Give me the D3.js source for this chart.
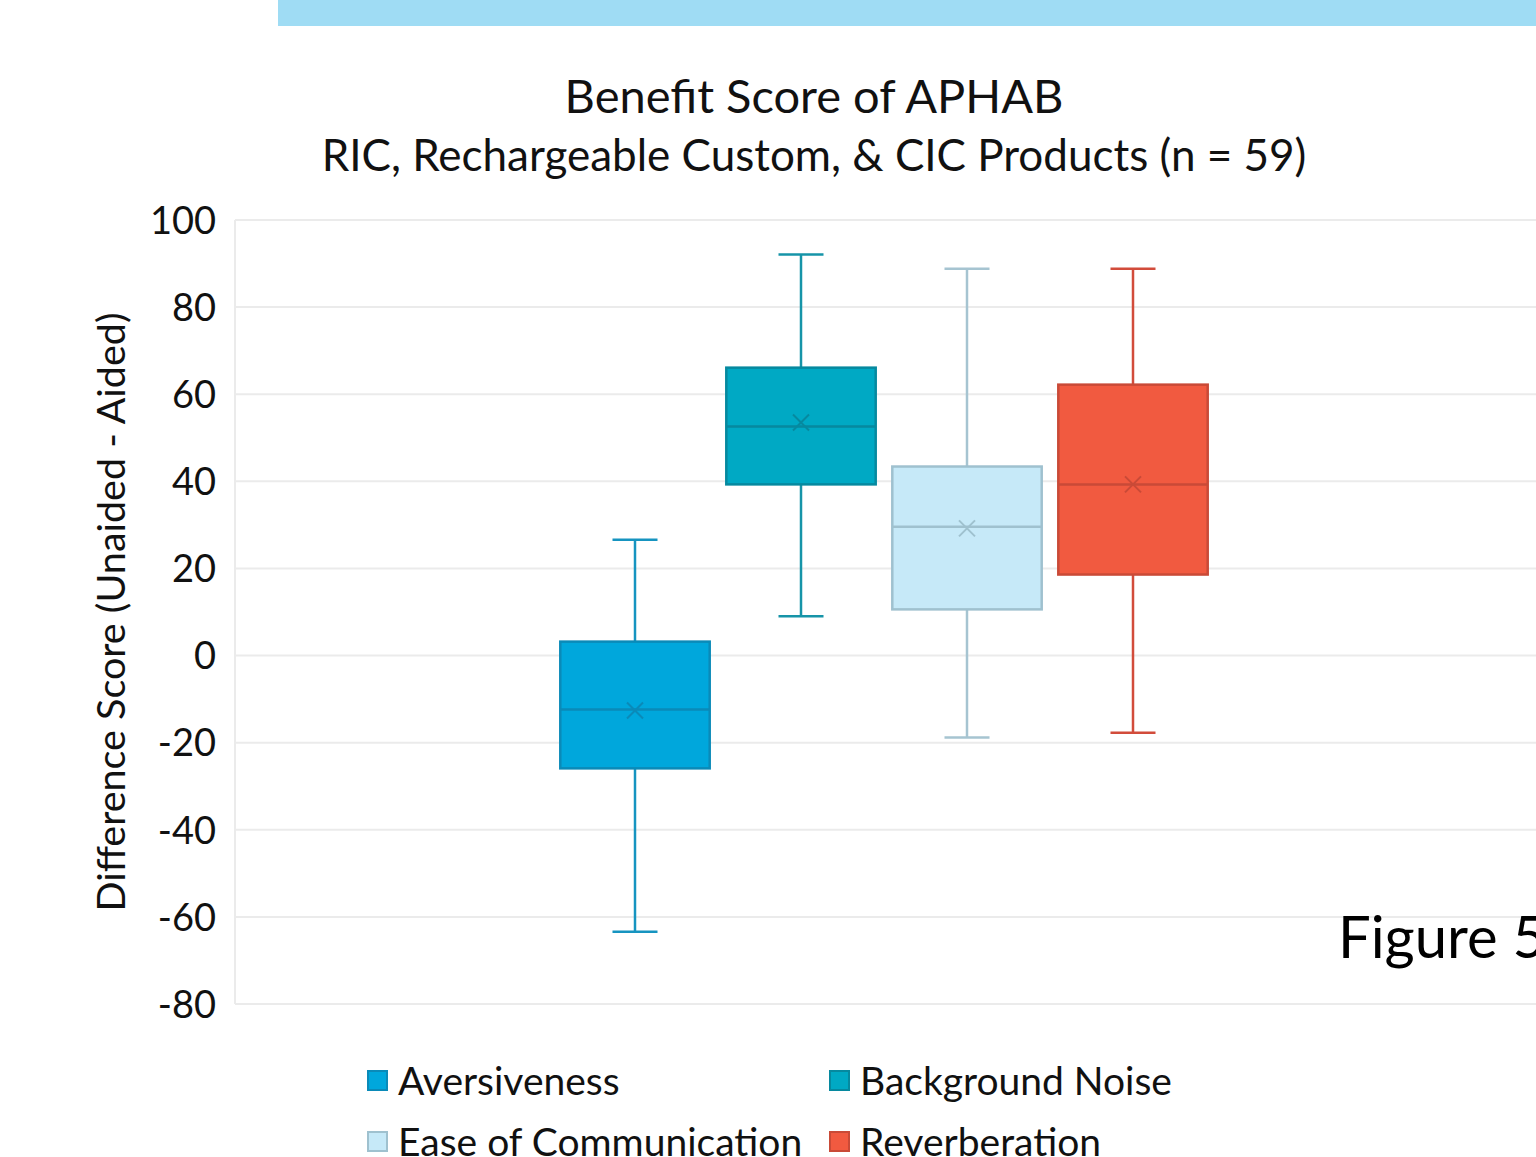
<!DOCTYPE html>
<html>
<head>
<meta charset="utf-8">
<script src="https://cdn.jsdelivr.net/npm/d3@7/dist/d3.min.js"></script>
<style>
  html, body { margin: 0; padding: 0; background: #fff; }
  svg { display: block; font-family: Lato, "Noto Sans", sans-serif; }
</style>
</head>
<body>
<svg id="chart" width="1536" height="1157"></svg>
<script>
const W = 1536;
const H = 1157;

// data
const series = ['Aversiveness', 'Background Noise', 'Ease of Communication', 'Reverberation'];
const whiskerLow  = [-63.4,  9.0, -18.8, -17.7];
const q1          = [-25.9, 39.3,  10.6,  18.6];
const median      = [-12.4, 52.6,  29.6,  39.3];
const q3          = [  3.2, 66.1,  43.4,  62.2];
const whiskerHigh = [ 26.6, 92.1,  88.8,  88.8];
const mean        = [-12.6, 53.5,  29.2,  39.3];
const yTicks = [100, 80, 60, 40, 20, 0, -20, -40, -60, -80];

const fills   = ['#00a7dc', '#00a9c4', '#c6e9f8', '#f15a40'];
const strokes = ['#0a8ab8', '#06899f', '#9fc1cf', '#c94a37'];
const lines   = ['#1694c0', '#1694a8', '#a6c4d1', '#d24c3b'];

const svg = d3.select('#chart');

// light blue banner strip at the top
svg.append('rect').attr('x', 278).attr('y', 0).attr('width', W - 278).attr('height', 26)
  .attr('fill', '#9fdcf4');

const m = { top: 220, right: 0, bottom: H - 1004, left: 235 };
const y = d3.scaleLinear().domain([-80, 100]).range([1004, 220]);
const x = d3.scaleBand().domain(series).range([552, 1216]).paddingInner(0.1).paddingOuter(0.05);

// gridlines
svg.append('g').selectAll('line').data(yTicks).join('line')
  .attr('x1', m.left).attr('x2', W)
  .attr('y1', d => y(d)).attr('y2', d => y(d))
  .attr('stroke', '#ebebeb').attr('stroke-width', 2);
svg.append('line').attr('x1', m.left).attr('x2', m.left).attr('y1', y(100)).attr('y2', y(-80))
  .attr('stroke', '#ebebeb').attr('stroke-width', 2);

// y axis labels (plain hyphen minus like the original)
const yAxis = svg.append('g').attr('transform', `translate(${m.left},0)`)
  .call(d3.axisLeft(y).tickValues(yTicks).tickSize(0).tickPadding(19).tickFormat(d => String(d)));
yAxis.select('.domain').remove();
yAxis.selectAll('text').attr('font-size', 38).attr('font-family', 'Lato, "Noto Sans", sans-serif')
  .attr('fill', '#111').attr('dy', '0.35em');

// boxes
const bw = x.bandwidth();
const capW = 45;
const g = svg.append('g');
series.forEach((s, i) => {
  const cx = x(s) + bw / 2;
  const gg = g.append('g');
  // whiskers
  gg.append('line').attr('x1', cx).attr('x2', cx).attr('y1', y(whiskerHigh[i])).attr('y2', y(q3[i]))
    .attr('stroke', lines[i]).attr('stroke-width', 2.5);
  gg.append('line').attr('x1', cx).attr('x2', cx).attr('y1', y(q1[i])).attr('y2', y(whiskerLow[i]))
    .attr('stroke', lines[i]).attr('stroke-width', 2.5);
  [whiskerHigh[i], whiskerLow[i]].forEach(v => {
    gg.append('line').attr('x1', cx - capW / 2).attr('x2', cx + capW / 2).attr('y1', y(v)).attr('y2', y(v))
      .attr('stroke', lines[i]).attr('stroke-width', 2.5);
  });
  // box
  gg.append('rect').attr('x', x(s)).attr('width', bw)
    .attr('y', y(q3[i])).attr('height', y(q1[i]) - y(q3[i]))
    .attr('fill', fills[i]).attr('stroke', strokes[i]).attr('stroke-width', 2.5);
  // median
  gg.append('line').attr('x1', x(s)).attr('x2', x(s) + bw).attr('y1', y(median[i])).attr('y2', y(median[i]))
    .attr('stroke', strokes[i]).attr('stroke-width', 2.5);
  // mean marker
  const mx = 8, my = y(mean[i]);
  gg.append('path')
    .attr('d', `M${cx - mx},${my - mx}L${cx + mx},${my + mx}M${cx - mx},${my + mx}L${cx + mx},${my - mx}`)
    .attr('stroke', strokes[i]).attr('stroke-width', 2).attr('fill', 'none');
});

// titles
svg.append('text').attr('x', 814).attr('y', 113).attr('text-anchor', 'middle')
  .attr('font-size', 47).attr('fill', '#111').text('Benefit Score of APHAB');
svg.append('text').attr('x', 814).attr('y', 171).attr('text-anchor', 'middle')
  .attr('font-size', 44).attr('fill', '#111').text('RIC, Rechargeable Custom, & CIC Products (n = 59)');

// axis title
svg.append('text').attr('transform', `translate(125,612) rotate(-90)`).attr('text-anchor', 'middle')
  .attr('font-size', 39.5).attr('fill', '#111').text('Difference Score (Unaided - Aided)');

// legend
const legendX = [367, 829];
const legendY = [1081, 1142];
series.forEach((s, i) => {
  const lx = legendX[i % 2], ly = legendY[Math.floor(i / 2)];
  svg.append('rect').attr('x', lx + 1).attr('y', ly - 10).attr('width', 19).attr('height', 19)
    .attr('fill', fills[i]).attr('stroke', strokes[i]).attr('stroke-width', 2);
  svg.append('text').attr('x', lx + 31).attr('y', ly + 14).attr('font-size', 39).attr('fill', '#111').text(s);
});

// figure label
svg.append('text').attr('x', 1338).attr('y', 958).attr('font-size', 58).attr('fill', '#000').text('Figure 5');
</script>
</body>
</html>
